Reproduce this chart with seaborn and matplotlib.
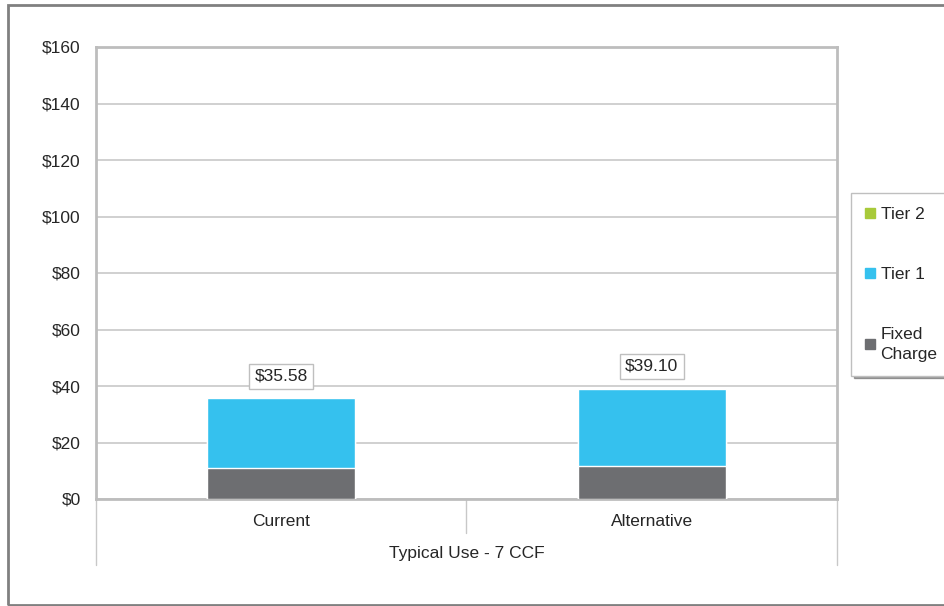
import numpy as np
import pandas as pd
import matplotlib
matplotlib.use("Agg")
import matplotlib.pyplot as plt
import seaborn as sns
from matplotlib.lines import Line2D
from matplotlib.patches import Rectangle

categories = ["Current", "Alternative"]
fixed_charge = [10.8, 11.7]
tier1 = [24.78, 27.40]
tier2 = [0.0, 0.0]
totals = ["$35.58", "$39.10"]
group_label = "Typical Use - 7 CCF"

c_fixed = "#6D6E71"
c_tier1 = "#35C1EE"
c_tier2 = "#A8CA3A"
txt = "#262626"
fs = 12.5

sns.set_theme(style="white")
plt.rcParams["font.family"] = ["Liberation Sans", "DejaVu Sans"]

df = pd.DataFrame({
    "cat": categories,
    "fixed": fixed_charge,
    "t1": np.array(fixed_charge) + np.array(tier1),
    "t2": np.array(fixed_charge) + np.array(tier1) + np.array(tier2),
})

fig = plt.figure(figsize=(9.45, 6.06), dpi=100)
ax = fig.add_axes([96 / 945, 1 - 499 / 606, 741 / 945, 452 / 606])

sns.barplot(data=df, x="cat", y="t2", color=c_tier2, width=0.4, saturation=1, ax=ax, zorder=3)
sns.barplot(data=df, x="cat", y="t1", color=c_tier1, width=0.4, saturation=1, ax=ax, zorder=3)
sns.barplot(data=df, x="cat", y="fixed", color=c_fixed, width=0.4, saturation=1, ax=ax, zorder=3)

ax.set_ylim(0, 160)
ax.set_xlim(-0.5, 1.5)
ax.set_yticks(range(0, 161, 20))
ax.set_yticklabels([f"${v}" for v in range(0, 161, 20)], fontsize=fs, color=txt)
ax.yaxis.grid(True, color="#C8C8C8", linewidth=1.2, zorder=0)
ax.set_axisbelow(True)
ax.set_xlabel("")
ax.set_ylabel("")
ax.tick_params(axis="x", length=0, labelsize=fs, labelcolor=txt, pad=11)
ax.tick_params(axis="y", length=0, pad=11)
for s in ax.spines.values():
    s.set_color("#BDBDBD")
    s.set_linewidth(2)

# value labels in boxes
for i, row in df.iterrows():
    ax.annotate(totals[i], xy=(i, row["t2"]), xytext=(0, 16), textcoords="offset points",
                ha="center", va="center", fontsize=fs, color=txt,
                bbox=dict(boxstyle="square,pad=0.3", fc="white", ec="#BFBFBF", lw=1))

# category separators and group label
trans = ax.get_xaxis_transform()
for x, y0 in [(-0.5, -0.147), (0.5, -0.075), (1.5, -0.147)]:
    ax.add_line(Line2D([x, x], [0, y0], transform=trans, color="#C8C8C8", lw=1, clip_on=False))
ax.text(0.5, -0.12, group_label, transform=ax.transAxes, ha="center", va="center",
        fontsize=fs, color=txt)

# legend
handles = [Line2D([], [], marker="s", ls="", color=c, markersize=7)
           for c in [c_tier2, c_tier1, c_fixed]]
leg = fig.legend(handles, ["Tier 2", "Tier 1", "Fixed\nCharge"], loc="upper left",
                 bbox_to_anchor=(851 / 945, 1 - 193 / 606), frameon=True, fancybox=False,
                 fontsize=fs, labelspacing=2.6, handletextpad=0.3, handlelength=0.6,
                 borderpad=0.8, borderaxespad=0, shadow=True)
leg.get_frame().set_edgecolor("#BFBFBF")
for t in leg.get_texts():
    t.set_color(txt)
    t.set_linespacing(1.35)

# outer frame
fig.patches.append(Rectangle((8 / 945, 1 / 606), 0.999, 1 - 6 / 606, transform=fig.transFigure,
                             fill=False, ec="#808080", lw=2))

fig.savefig("out.png", dpi=100)
